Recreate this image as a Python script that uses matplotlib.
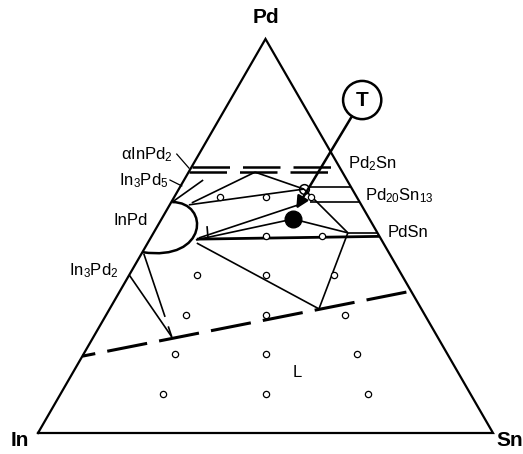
import numpy as np
import matplotlib
matplotlib.use('Agg')
from matplotlib import pyplot as plt
from matplotlib.path import Path
from matplotlib.patches import PathPatch, Circle

plt.rcParams['font.family'] = ['Liberation Sans', 'DejaVu Sans']
plt.rcParams['mathtext.fontset'] = 'custom'
plt.rcParams['mathtext.rm'] = 'Liberation Sans'
plt.rcParams['mathtext.it'] = 'Liberation Sans:italic'
plt.rcParams['mathtext.bf'] = 'Liberation Sans:bold'

# compositions in at.% as (Pd, Sn); In is the balance

# alloys examined (open circles)
sample_pd = [60, 60, 60, 50, 50, 40, 40, 40, 30, 30, 30, 20, 20, 20, 10, 10, 10]
sample_sn = [10, 20, 30, 25, 37.5, 15, 30, 45, 17.5, 35, 52.5, 20, 40, 60, 22.5, 45, 67.5]

# alloy T (filled) and the three-phase corner near Pd20Sn13
alloy_t = (54.3, 28.9)
corner_pd20sn13 = (61.9, 27.5)

# solid tie lines / phase boundaries
tie_lines = [
    ((58.6, 0.2), (64.2, 4.2)),
    ((58.4, 4.6), (66.2, 14.6)),
    ((66.2, 14.6), (61.9, 27.5)),
    ((57.9, 4.2), (61.9, 27.5)),
    ((61.9, 27.5), (50.8, 42.7)),
    ((49.5, 10.6), (58.0, 28.5)),
    ((49.0, 10.2), (54.3, 28.9)),
    ((54.3, 28.9), (50.8, 42.7)),
    ((48.2, 10.8), (31.5, 46.0)),
    ((31.5, 46.0), (50.8, 42.7)),
    ((40.1, 0.0), (24.4, 17.2)),
    ((52.5, 10.9), (49.7, 12.5)),
    ((62.4, 28.4), (62.4, 37.6)),
    ((58.6, 30.5), (58.6, 41.4)),
    ((50.8, 42.7), (50.8, 49.2)),
]
pdsn_line = ((49.2, 10.3), (49.9, 50.1))

# dashed boundaries
alpha_inpd2_upper = ((67.5, 0.0), (67.5, 30.9))
alpha_inpd2_lower = ((66.2, 0.0), (66.2, 31.5))
liquid_boundary = ((19.5, 0.0), (36.0, 64.0))
in3pd2_boundary = ((45.5, 0.5), (24.4, 17.2))

# InPd single-phase field: start, two control points, end
inpd_field = [(58.6, 0.2), (58.6, 8.5), (43.4, 15.7), (45.9, 0.0)]

# arrow from the circled T label
arrow_from = (80.3, 28.8)
arrow_to = (56.9, 28.3)
t_label = (84.5, 29.0)

H = np.sqrt(3) / 2


def tern(pd, sn):
    pd = np.asarray(pd, dtype=float)
    sn = np.asarray(sn, dtype=float)
    return sn + pd / 2, pd * H


def seg(ax, a, b, **kw):
    x, y = tern([a[0], b[0]], [a[1], b[1]])
    ax.plot(x, y, color='black', solid_capstyle='butt', **kw)


fig = plt.figure(figsize=(5.23, 4.54), dpi=100)
ax = fig.add_axes([0, 0, 1, 1])
ax.set_xlim(-38 / 4.55, 485 / 4.55)
ax.set_ylim(-21 / 4.55, 433 / 4.55)
ax.axis('off')

# triangle frame
tx, ty = tern([0, 0, 100, 0], [0, 100, 0, 0])
ax.plot(tx, ty, color='black', lw=1.6, solid_joinstyle='miter')

for a, b in tie_lines:
    seg(ax, a, b, lw=1.2)
seg(ax, *pdsn_line, lw=2.0)

seg(ax, *alpha_inpd2_upper, lw=1.8, linestyle=(0, (15, 5.2)))
seg(ax, *alpha_inpd2_lower, lw=1.8, linestyle=(0, (15, 5.2)))
seg(ax, *liquid_boundary, lw=2.2, linestyle=(9, (13.3, 4)))
seg(ax, *in3pd2_boundary, lw=1.2, linestyle=(0, (40, 6)))

pts = [tern(p, s) for p, s in inpd_field]
ax.add_patch(PathPatch(Path(pts, [Path.MOVETO, Path.CURVE4, Path.CURVE4, Path.CURVE4]),
                       fill=False, lw=1.8, color='black'))

sx, sy = tern(sample_pd, sample_sn)
ax.plot(sx, sy, 'o', ms=4.5, mfc='white', mec='black', mew=0.9, ls='none')

cx, cy = tern(*corner_pd20sn13)
ax.plot(cx, cy, 'o', ms=7, mfc='none', mec='black', mew=1.1)
fx, fy = tern(*alloy_t)
ax.plot(fx, fy, 'o', ms=12, color='black')

ax.annotate('', xy=tern(*arrow_to), xytext=tern(*arrow_from),
            arrowprops=dict(arrowstyle='-|>', lw=1.8, color='black',
                            mutation_scale=18, shrinkA=0, shrinkB=0))
lx, ly = tern(*t_label)
ax.add_patch(Circle((lx, ly), 4.2, fill=False, lw=1.8, color='black'))
ax.text(lx, ly, 'T', fontsize=15, fontweight='bold', ha='center', va='center')

# corner labels
ax.text(50, 91.3, 'Pd', fontsize=15, fontweight='bold', ha='center', va='center')
ax.text(-3.9, -1.6, 'In', fontsize=15, fontweight='bold', ha='center', va='center')
ax.text(103.7, -1.6, 'Sn', fontsize=15, fontweight='bold', ha='center', va='center')

# phase labels
fs = 12
ax.text(29.7, 60.2, r'αInPd$_2$', fontsize=fs, ha='right', va='baseline')
ax.text(28.6, 54.5, r'In$_3$Pd$_5$', fontsize=fs, ha='right', va='baseline')
ax.text(24.2, 45.7, 'InPd', fontsize=fs, ha='right', va='baseline')
ax.text(17.6, 34.7, r'In$_3$Pd$_2$', fontsize=fs, ha='right', va='baseline')
ax.text(68.1, 58.2, r'Pd$_2$Sn', fontsize=fs, ha='left', va='baseline')
ax.text(71.9, 51.2, r'Pd$_{20}$Sn$_{13}$', fontsize=fs, ha='left', va='baseline')
ax.text(76.9, 43.1, 'PdSn', fontsize=fs, ha='left', va='baseline')
ax.text(56.9, 13.4, 'L', fontsize=fs, ha='center', va='center')

# leaders
ax.plot([30.5, 33.2], [61.3, 58.2], color='black', lw=0.9)
ax.plot([29.0, 31.6], [55.6, 54.3], color='black', lw=0.9)

fig.savefig('out.png', dpi=100)
